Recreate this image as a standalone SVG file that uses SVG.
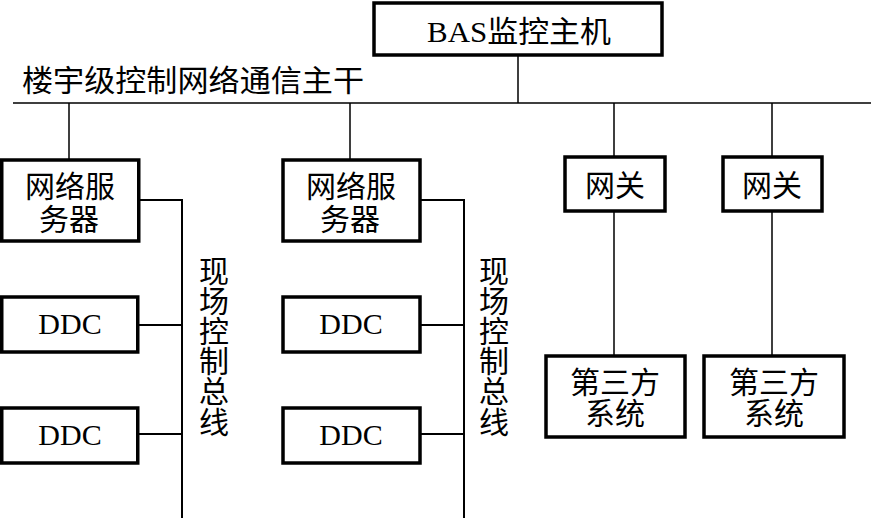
<svg xmlns="http://www.w3.org/2000/svg" width="871" height="518" viewBox="0 0 871 518">
<style>
.box{fill:#fff;stroke:#000;stroke-width:3.5}
.ln{fill:none;stroke:#000;stroke-width:1.5}
.ln2{fill:none;stroke:#000;stroke-width:2}
text{font-family:"Liberation Serif","Noto Sans CJK SC",serif;font-size:30px;fill:#000;text-anchor:middle}
.l{text-anchor:start}
</style>
<rect width="871" height="518" fill="#fff"/>
<g id="connectors">
<path class="ln" d="M518 55V103M13 103H871"/>
<path class="ln" d="M69 103V160M350 103V160M614 103V157M772 103V157"/>
<path class="ln" d="M614 211V356M772 211V356"/>
<path class="ln2" d="M139 200H182V518M420 200H464V518"/>
<path class="ln2" d="M138 325H182M138 434H182M420 325H464M420 434H464"/>
</g>
<g id="host"><rect class="box" x="374" y="3" width="288" height="52"/><text x="519" y="42" textLength="184" lengthAdjust="spacingAndGlyphs">BAS监控主机</text></g>
<g id="bus-label"><text class="l" x="22" y="91" textLength="342" lengthAdjust="spacingAndGlyphs">楼宇级控制网络通信主干</text></g>
<g id="server1"><rect class="box" x="1.75" y="160" width="137" height="81"/><text x="70" y="197">网络服</text><text x="69" y="230">务器</text></g>
<g id="server2"><rect class="box" x="283" y="160" width="137" height="81"/><text x="351" y="197">网络服</text><text x="350" y="230">务器</text></g>
<g id="gateway1"><rect class="box" x="565" y="157" width="100" height="54"/><text x="615" y="196">网关</text></g>
<g id="gateway2"><rect class="box" x="723" y="157" width="99" height="54"/><text x="772" y="196">网关</text></g>
<g id="third1"><rect class="box" x="546" y="356" width="139" height="81"/><text x="615" y="393">第三方</text><text x="615" y="424">系统</text></g>
<g id="third2"><rect class="box" x="704" y="356" width="140" height="81"/><text x="774" y="393">第三方</text><text x="774" y="424">系统</text></g>
<g id="ddc1"><rect class="box" x="1.75" y="297" width="136" height="55"/><text x="70" y="334">DDC</text></g>
<g id="ddc2"><rect class="box" x="1.75" y="408" width="136" height="55"/><text x="70" y="445">DDC</text></g>
<g id="ddc3"><rect class="box" x="283" y="297" width="137" height="55"/><text x="351" y="334">DDC</text></g>
<g id="ddc4"><rect class="box" x="283" y="408" width="137" height="55"/><text x="351" y="445">DDC</text></g>
<g id="fieldbus1-label"><text x="214" y="282">现</text><text x="214" y="312">场</text><text x="214" y="342">控</text><text x="214" y="372">制</text><text x="214" y="402">总</text><text x="214" y="433">线</text></g>
<g id="fieldbus2-label"><text x="494" y="282">现</text><text x="494" y="312">场</text><text x="494" y="342">控</text><text x="494" y="372">制</text><text x="494" y="402">总</text><text x="494" y="433">线</text></g>
</svg>
